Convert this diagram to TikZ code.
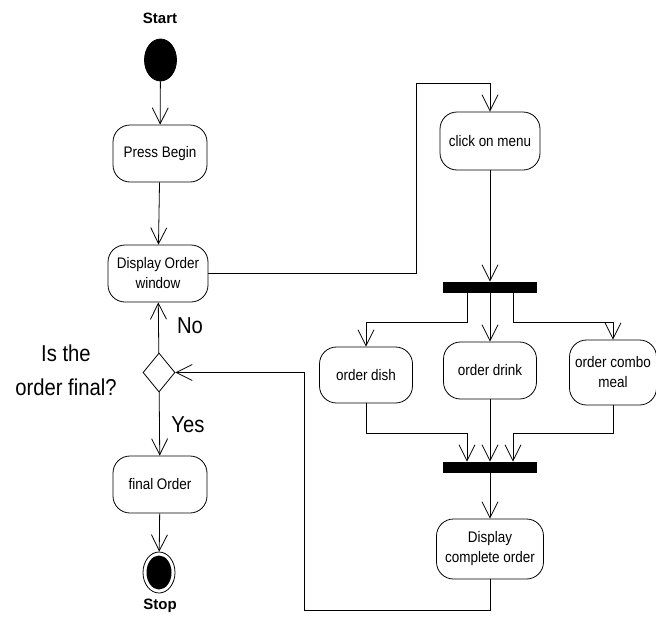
\documentclass[tikz,border=0pt]{standalone}
\usepackage{fontspec}
\setmainfont{Liberation Sans}
\newfontfamily\nodefont[FakeStretch=0.88]{Liberation Sans}
\usetikzlibrary{arrows.meta,shapes.geometric}
\begin{document}
\begin{tikzpicture}[x=1pt,y=-1pt,
  every path/.style={line width=0.8pt},
  act/.style={draw, rounded corners=17pt, minimum width=94pt, minimum height=57pt,
    align=center, inner sep=2pt, font=\nodefont\fontsize{15.3}{20}\selectfont},
  bar/.style={fill=black, minimum width=94pt, minimum height=11pt, inner sep=0pt},
  arr/.style={-{Straight Barb[length=16pt,width=16pt,line width=0.8pt]}},
  big/.style={font=\nodefont\fontsize{23}{34}\selectfont, align=center, inner sep=0pt},
  title/.style={font=\bfseries\fontsize{15}{17}\selectfont, inner sep=0pt}]
\useasboundingbox (0,0) rectangle (656,616);
% start / stop
\node[title] (tstart) at (160,18) {Start};
\node[draw, fill=black, ellipse, minimum width=32pt, minimum height=42pt, inner sep=0pt] (start) at (160.5,60) {};
\node[title] (tstop) at (160,606) {Stop};
\node[draw, ellipse, minimum width=32pt, minimum height=41pt, inner sep=0pt] (stop) at (159,572.5) {};
\fill (stop.center) ellipse (12.5pt and 17pt);
% activities
\node[act] (press) at (160,153.5) {Press Begin};
\node[act, minimum width=100pt] (disp) at (158,273.5) {Display Order\\window};
\node[act, minimum width=100pt, minimum height=58pt] (menu) at (490,141) {click on menu};
\node[bar] (fork) at (490,287.5) {};
\node[act, minimum width=93pt, minimum height=56pt] (dish) at (366,375) {order dish};
\node[act, minimum width=93pt] (drink) at (490,370.5) {order drink};
\node[act, minimum width=87pt, minimum height=65pt] (combo) at (613,372.5) {order combo\\meal};
\node[bar] (join) at (490,467.5) {};
\node[act, minimum width=107pt, minimum height=60pt] (dco) at (490,549) {Display\\complete order};
\node[draw, diamond, minimum width=32pt, minimum height=39pt, inner sep=0pt] (dec) at (159,372.5) {};
\node[act] (final) at (160,484.5) {final Order};
% labels
\node[big] (q) at (66,370) {Is the\\order final?};
\node[big] (no) at (190,326) {No};
\node[big] (yes) at (188,425) {Yes};
% bend coordinates
\coordinate (c1) at (416,83);
\coordinate (f1) at (467,322);
\coordinate (f3) at (513,322);
\coordinate (j1) at (467,433);
\coordinate (j3) at (513,433);
\coordinate (b1) at (304,610);
% connectors
\draw[arr] (start) -- (press);
\draw[arr] (press) -- (disp);
\draw[arr] (disp.east) -| (c1) -| (menu.north);
\draw[arr] (menu) -- (fork);
\draw[arr] (fork.south -| f1) -- (f1) -| (dish.north);
\draw[arr] (fork) -- (drink);
\draw[arr] (fork.south -| f3) -- (f3) -| (combo.north);
\draw[arr] (dish.south) |- (j1) -- (join.north -| j1);
\draw[arr] (drink) -- (join);
\draw[arr] (combo.south) |- (j3) -- (join.north -| j3);
\draw[arr] (join) -- (dco);
\draw[arr] (dco.south) |- (b1) |- (dec.east);
\draw[arr] (dec) -- (disp);
\draw[arr] (dec) -- (final);
\draw[arr] (final) -- (stop);
\end{tikzpicture}
\end{document}
